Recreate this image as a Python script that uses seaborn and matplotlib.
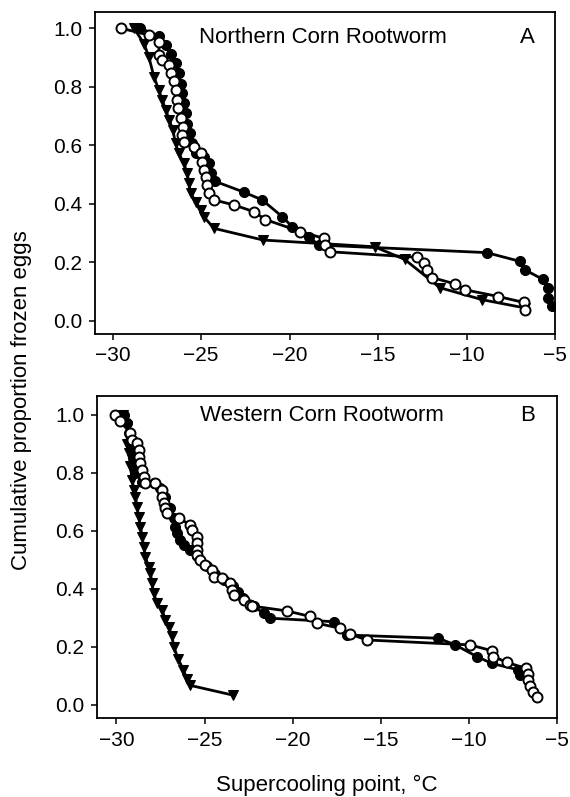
import numpy as np
import pandas as pd
import matplotlib
matplotlib.use("Agg")
import matplotlib.pyplot as plt
import seaborn as sns

# ---------------- Panel A: Northern Corn Rootworm ----------------
a_filled_x = [-28.46, -27.39, -27.0, -26.7, -26.45, -26.26, -26.16, -26.07, -25.98, -25.88,
              -25.79, -25.64, -25.5, -25.3, -24.85, -24.56, -24.47, -24.19, -22.6, -21.55,
              -20.42, -19.86, -18.92, -18.36, -8.86, -6.97, -6.69, -5.7, -5.38, -5.38, -5.19]
a_filled_y = [1.0, 0.973, 0.942, 0.913, 0.88, 0.845, 0.81, 0.777, 0.743, 0.709,
              0.674, 0.64, 0.606, 0.572, 0.56, 0.538, 0.504, 0.476, 0.44, 0.413,
              0.356, 0.322, 0.288, 0.259, 0.233, 0.203, 0.174, 0.142, 0.111, 0.077, 0.049]

a_open_x = [-29.55, -27.95, -27.39, -27.39, -27.2, -26.82, -26.73, -26.54, -26.44, -26.39,
            -26.3, -26.16, -26.0, -26.07, -25.98, -25.4, -25.03, -24.94, -24.85, -24.75,
            -24.66, -24.56, -24.28, -23.15, -22.03, -21.37, -19.4, -18.08, -17.98, -17.74,
            -12.81, -12.43, -12.24, -11.96, -10.64, -10.08, -8.2, -6.78, -6.69]
a_open_y = [1.0, 0.976, 0.954, 0.908, 0.89, 0.874, 0.845, 0.818, 0.788, 0.754,
            0.726, 0.692, 0.663, 0.635, 0.612, 0.595, 0.572, 0.544, 0.515, 0.492,
            0.464, 0.436, 0.413, 0.396, 0.373, 0.346, 0.305, 0.282, 0.259, 0.236,
            0.217, 0.197, 0.172, 0.148, 0.126, 0.106, 0.083, 0.063, 0.038]

a_tri_x = [-28.8, -28.23, -27.95, -27.67, -27.39, -27.2, -27.0, -26.8, -26.6, -26.45,
           -26.26, -25.98, -25.79, -25.7, -25.6, -25.3, -25.03, -24.85, -24.28, -21.5,
           -15.2, -13.5, -11.5, -9.1, -6.7]
a_tri_y = [1.0, 0.947, 0.90, 0.834, 0.788, 0.754, 0.72, 0.686, 0.652, 0.606,
           0.572, 0.538, 0.504, 0.47, 0.436, 0.407, 0.379, 0.356, 0.316, 0.276,
           0.253, 0.21, 0.113, 0.072, 0.044]

# ---------------- Panel B: Western Corn Rootworm ----------------
b_filled_x = [-29.59, -29.39, -29.3, -29.2, -29.11, -29.02, -28.92, -28.54, -27.89, -27.51,
              -27.22, -26.95, -26.75, -26.66, -26.56, -26.37, -26.18, -25.8, -25.4, -24.85,
              -24.4, -23.9, -23.4, -23.1, -22.8, -22.2, -21.65, -21.27, -17.68, -16.92,
              -11.73, -10.78, -9.55, -8.7, -7.19, -7.1]
b_filled_y = [1.0, 0.971, 0.937, 0.902, 0.868, 0.833, 0.799, 0.77, 0.764, 0.747,
              0.718, 0.68, 0.645, 0.615, 0.592, 0.569, 0.552, 0.535, 0.515, 0.48,
              0.452, 0.43, 0.41, 0.39, 0.37, 0.34, 0.316, 0.299, 0.287, 0.241,
              0.23, 0.207, 0.167, 0.143, 0.121, 0.103]

b_open_x = [-30.06, -29.77, -29.2, -29.11, -28.83, -28.74, -28.74, -28.64, -28.54, -28.45,
            -28.36, -27.79, -27.41, -27.41, -27.32, -27.22, -27.13, -26.47, -25.8, -25.71,
            -25.43, -25.43, -25.43, -25.43, -25.24, -24.95, -24.57, -24.48, -24.01, -23.54,
            -23.44, -23.35, -22.78, -22.4, -22.3, -20.32, -19.0, -18.62, -17.3, -16.73,
            -15.79, -9.93, -8.7, -8.61, -7.85, -6.76, -6.66, -6.62, -6.53, -6.34, -6.15]
b_open_y = [1.0, 0.98, 0.937, 0.914, 0.902, 0.879, 0.856, 0.833, 0.81, 0.787,
            0.764, 0.764, 0.741, 0.718, 0.695, 0.678, 0.661, 0.644, 0.621, 0.603,
            0.58, 0.557, 0.534, 0.517, 0.5, 0.483, 0.466, 0.442, 0.437, 0.42,
            0.397, 0.379, 0.362, 0.345, 0.341, 0.324, 0.305, 0.282, 0.264, 0.244,
            0.224, 0.207, 0.187, 0.167, 0.147, 0.126, 0.107, 0.086, 0.066, 0.046, 0.027]

b_tri_x = [-29.6, -29.39, -29.39, -29.3, -29.2, -29.11, -29.0, -28.92, -28.83, -28.74,
           -28.64, -28.54, -28.45, -28.36, -28.17, -28.07, -27.98, -27.89, -27.69, -27.41,
           -27.22, -27.04, -26.84, -26.75, -26.5, -26.2, -26.0, -25.85, -23.4]
b_tri_y = [1.0, 0.96, 0.90, 0.868, 0.822, 0.776, 0.741, 0.718, 0.684, 0.649,
           0.615, 0.58, 0.546, 0.511, 0.477, 0.454, 0.42, 0.385, 0.351, 0.328,
           0.293, 0.27, 0.236, 0.201, 0.16, 0.12, 0.09, 0.068, 0.034]

titles = ["Northern Corn Rootworm", "Western Corn Rootworm"]
panel_letters = ["A", "B"]
x_ticks = [-30, -25, -20, -15, -10, -5]
y_ticks = [0.0, 0.2, 0.4, 0.6, 0.8, 1.0]

sns.set_style("ticks")
plt.rcParams["font.family"] = ["Liberation Sans", "DejaVu Sans"]
plt.rcParams["text.color"] = "black"

fig = plt.figure(figsize=(5.70, 7.97), dpi=100)
axA = fig.add_axes([95/570, 1-334/797, 460/570, 322/797])
axB = fig.add_axes([97/570, 1-718/797, 460/570, 322/797])

panels = [
    (axA, a_filled_x, a_filled_y, a_open_x, a_open_y, a_tri_x, a_tri_y, (-31.0, -5.0), (-0.045, 1.055),
     (0.496, 0.921), (0.941, 0.921)),
    (axB, b_filled_x, b_filled_y, b_open_x, b_open_y, b_tri_x, b_tri_y, (-31.1, -5.0), (-0.045, 1.065),
     (0.489, 0.938), (0.937, 0.938)),
]

lw = 2.0
ms = 7.2
for i, (ax, fx, fy, ox, oy, tx, ty, xl, yl, tpos, lpos) in enumerate(panels):
    df_t = pd.DataFrame({"x": tx, "y": ty})
    df_f = pd.DataFrame({"x": fx, "y": fy})
    df_o = pd.DataFrame({"x": ox, "y": oy})
    sns.lineplot(data=df_t, x="x", y="y", sort=False, estimator=None, ax=ax, color="black",
                 lw=lw, marker="v", markersize=ms, markerfacecolor="black",
                 markeredgecolor="black", zorder=3)
    sns.lineplot(data=df_f, x="x", y="y", sort=False, estimator=None, ax=ax, color="black",
                 lw=lw, marker="o", markersize=ms, markerfacecolor="black",
                 markeredgecolor="black", zorder=4)
    sns.lineplot(data=df_o, x="x", y="y", sort=False, estimator=None, ax=ax, color="black",
                 lw=lw, marker="o", markersize=ms, markerfacecolor="white",
                 markeredgecolor="black", markeredgewidth=1.4, zorder=5)
    ax.set_xlim(*xl)
    ax.set_ylim(*yl)
    ax.set_xticks(x_ticks)
    ax.set_xticklabels(["\u221230", "\u221225", "\u221220", "\u221215", "\u221210", "\u22125"])
    ax.set_yticks(y_ticks)
    ax.set_yticklabels([f"{v:.1f}" for v in y_ticks])
    ax.tick_params(axis="both", labelsize=15, length=4, width=1.1, direction="out", pad=5,
                   colors="black")
    for s in ax.spines.values():
        s.set_visible(True)
        s.set_linewidth(1.3)
        s.set_color("black")
    ax.set_xlabel("")
    ax.set_ylabel("")
    ax.text(tpos[0], tpos[1], titles[i], transform=ax.transAxes, ha="center", va="center",
            fontsize=16, color="black")
    ax.text(lpos[0], lpos[1], panel_letters[i], transform=ax.transAxes, ha="center",
            va="center", fontsize=16, color="black")

fig.text(22/570, 0.498, "Cumulative proportion frozen eggs", rotation=90, ha="center",
         va="center", fontsize=16, color="black")
fig.text(327/570, 1-785/797, "Supercooling point, \u00b0C", ha="center", va="center",
         fontsize=16, color="black")

fig.savefig("out.png", dpi=100, facecolor="white")
